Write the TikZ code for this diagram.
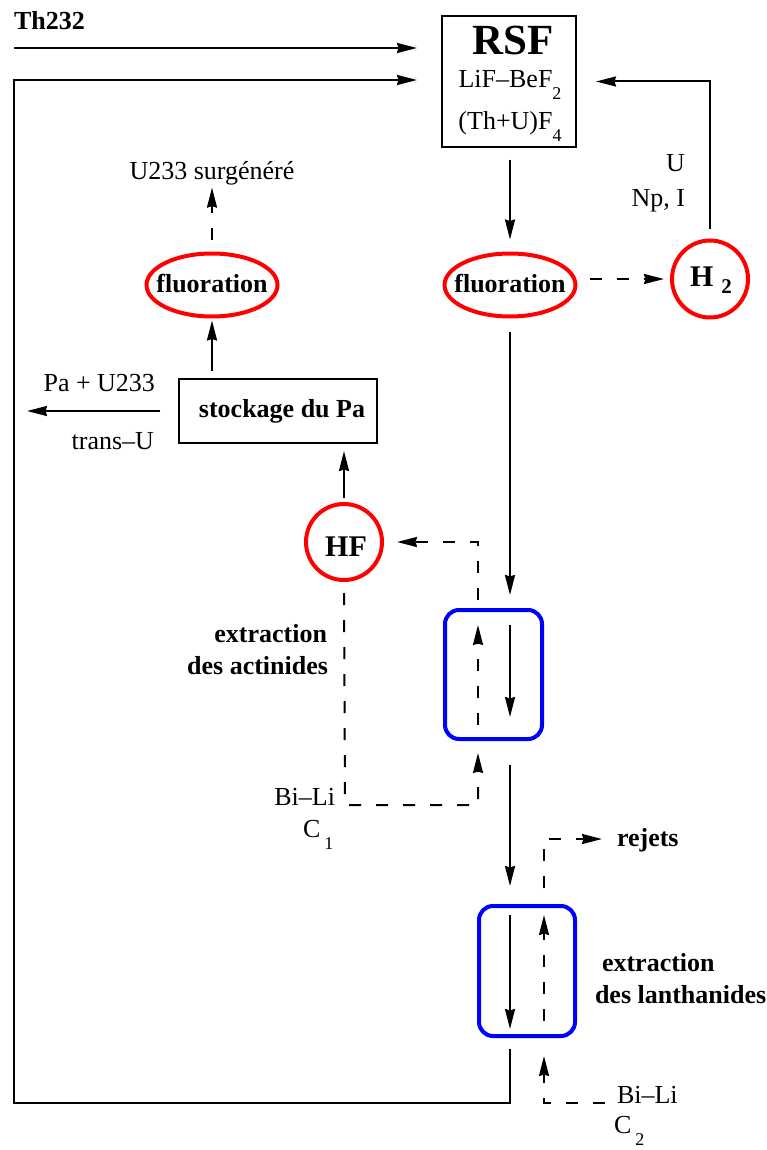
\documentclass[tikz,border=0pt]{standalone}
\usepackage{fontspec}
\setmainfont{Liberation Serif}
\usetikzlibrary{arrows.meta,shapes.geometric}
\newcommand\subidx[2][18]{\raisebox{-12pt}{\fontsize{#1}{#1}\selectfont #2}}
\begin{document}
\begin{tikzpicture}[x=1pt,y=-1pt,
  every node/.style={font=\fontsize{26}{31}\selectfont, inner sep=0pt, outer sep=0pt},
  bl/.style={font=\fontsize{26}{31}\selectfont\bfseries},
  arr/.style={line width=2pt, -{Stealth[length=20pt,width=10pt,inset=1.5pt]}},
  dsh/.style={dash pattern=on 12pt off 15pt},
  blk/.style={draw, line width=2pt},
  redell/.style={ellipse, draw=red, line width=4pt},
  bluebox/.style={draw=blue, line width=4pt, rounded corners=14pt}
]
\useasboundingbox (0,0) rectangle (767,1150);

% column coordinates
\coordinate (colA) at (478,0);
\coordinate (colB) at (510,0);
\coordinate (colC) at (544,0);

% main nodes
\node[blk, minimum width=134pt, minimum height=131pt] (rsf) at (509,81.5) {};
\node[font=\fontsize{43}{43}\selectfont\bfseries, anchor=base] (rsfname) at (513,55) {RSF};
\node[anchor=base] (lif) at (510,88) {LiF–BeF\subidx{2}};
\node[anchor=base] (thu) at (510,130) {(Th+U)F\subidx{4}};

\node[redell, minimum width=131pt, minimum height=63pt] (fluL) at (212,285) {};
\node[bl, anchor=base] (fluLt) at (212,292) {fluoration};
\node[redell, minimum width=131pt, minimum height=63pt] (fluR) at (510,285) {};
\node[bl, anchor=base] (fluRt) at (510,292) {fluoration};
\node[redell, minimum width=76pt, minimum height=77pt] (h2) at (710,279) {};
\node[font=\fontsize{30}{34}\selectfont\bfseries, anchor=base west] (h2t) at (690,286) {H\hspace{8pt}\raisebox{-7pt}{\fontsize{21}{21}\selectfont 2}};
\node[redell, minimum width=76pt, minimum height=76pt] (hf) at (344,542) {};
\node[font=\fontsize{30}{34}\selectfont\bfseries, anchor=base] (hft) at (346,556) {HF};

\node[blk, minimum width=198pt, minimum height=64pt] (stock) at (278,411) {};
\node[bl, anchor=base] (stockt) at (282,417) {stockage du Pa};

\node[bluebox, minimum width=97pt, minimum height=129pt] (act) at (493.5,674.5) {};
\node[bluebox, minimum width=96pt, minimum height=130pt] (lan) at (527,971) {};

% labels
\node[bl, anchor=base west] (th) at (14,30) {Th232};
\node[anchor=base east] (uLbl) at (685,172) {U};
\node[anchor=base east] (npLbl) at (685,207) {Np, I};
\node[anchor=base] (u233) at (212,180) {U233 surgénéré};
\node[anchor=base east] (paLbl) at (155,391) {Pa + U233};
\node[anchor=base east] (trLbl) at (154,449) {trans–U};
\node[bl, anchor=base east] (actL1) at (327,642) {extraction};
\node[bl, anchor=base east] (actL2) at (328,674) {des actinides};
\node[anchor=base east] (bili1) at (335,805) {Bi–Li};
\node[anchor=base west] (c1) at (303,837) {C\hspace{4pt}\subidx{1}};
\node[bl, anchor=base west] (rejets) at (617,846) {rejets};
\node[bl, anchor=base west] (lanL1) at (602,971) {extraction};
\node[bl, anchor=base west] (lanL2) at (595,1003) {des lanthanides};
\node[anchor=base west] (bili2) at (617,1103) {Bi–Li};
\node[anchor=base west] (c2) at (614,1133) {C\hspace{4pt}\subidx{2}};

% free-end coordinates
\coordinate (thS) at (14,48);
\coordinate (loopTL) at (14,80);
\coordinate (loopBL) at (14,1103);
\coordinate (loopBR) at (510,1103);
\coordinate (paOut) at (27,411);
\coordinate (actUp) at (478,600);
\coordinate (biliJ) at (345,805);
\coordinate (rejJ) at (544,839);
\coordinate (bili2J) at (605,1103);

% feed and recycle loops
\draw[arr, shorten >=25pt] (thS) -- (thS -| rsf.west);
\draw[arr, shorten <=13pt, shorten >=25pt] (lan.south -| colB) -- (loopBR) -- (loopBL) -- (loopTL) -- (loopTL -| rsf.west);
\draw[arr, shorten <=11pt, shorten >=20pt] (h2.north) -- (h2.north |- rsf.east) -- (rsf.east);

% right branch
\draw[arr, shorten <=13pt, shorten >=14pt] (rsf.south -| fluR.north) -- (fluR.north);
\draw[arr, dsh, shorten <=14pt, shorten >=8pt] (fluR.east |- h2.west) -- (h2.west);
\draw[arr, shorten <=15pt, shorten >=15pt] (fluR.south) -- (act.north -| colB);
\draw[arr, shorten <=15pt, shorten >=22pt] (act.north -| colB) -- (act.south -| colB);
\draw[arr, dsh, shorten <=14pt, shorten >=15pt] (act.south -| colA) -- (act.north -| colA);
\draw[arr, dsh, shorten >=15pt] (actUp) -- (actUp |- hf.east) -- (hf.east);
\draw[arr, dsh, shorten <=13pt, shorten >=14pt] (hf.south) -- (biliJ) -- (biliJ -| colA) -- (act.south -| colA);
\draw[arr, shorten <=26pt, shorten >=20pt] (act.south -| colB) -- (lan.north -| colB);
\draw[arr, shorten <=9pt, shorten >=7pt] (lan.north -| colB) -- (lan.south -| colB);
\draw[arr, dsh, shorten <=15pt, shorten >=9pt] (lan.south -| colC) -- (lan.north -| colC);
\draw[arr, dsh, shorten <=18pt, shorten >=15pt] (lan.north -| colC) -- (rejJ) -- (rejJ -| rejets.west);
\draw[arr, dsh, shorten >=20pt] (bili2J) -- (bili2J -| colC) -- (lan.south -| colC);

% left branch
\draw[arr, shorten <=6pt, shorten >=8pt] (hf.north) -- (hf.north |- stock.south);
\draw[arr, shorten <=19pt] (stock.west) -- (paOut);
\draw[arr, shorten <=8pt, shorten >=4pt] (fluL.south |- stock.north) -- (fluL.south);
\draw[arr, dsh, shorten <=13pt, shorten >=2pt] (fluL.north) -- (u233.south);
\end{tikzpicture}
\end{document}
